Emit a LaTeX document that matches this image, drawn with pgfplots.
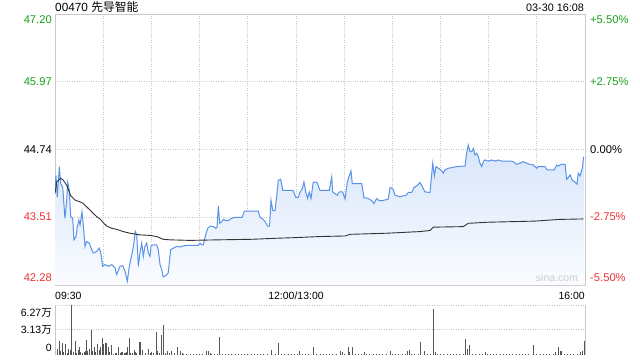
\documentclass[border=0pt]{standalone}
\usepackage{pgfplots}
\usepackage{pgfplotstable}
\pgfplotsset{compat=1.18}
\usepackage{fontspec}
\setmainfont{Liberation Sans}
\newfontfamily\cjk{Noto Sans CJK SC}
\definecolor{upg}{HTML}{1AA01A}
\definecolor{dnr}{HTML}{F03333}
\definecolor{pline}{HTML}{5A92E8}
\definecolor{gridc}{HTML}{C8C8C8}
\definecolor{bord}{HTML}{C8C8C8}
\definecolor{ftop}{HTML}{D8E5FA}
\definecolor{fbot}{HTML}{FAFCFF}
\definecolor{vol}{HTML}{555555}

\pgfplotstableread{
t p
0 44.00
0.6 44.27
1.4 43.88
2.7 44.43
3.5 44.12
4.8 44.06
6.2 43.49
7.3 43.82
7.9 44.14
8.9 44.00
9.8 43.52
11.0 43.49
11.8 43.10
13.1 43.16
13.9 43.34
14.9 43.46
15.6 43.37
16.8 43.61
17.6 43.37
18.7 42.98
19.7 43.07
21.4 43.04
22.9 42.92
23.8 42.86
26.0 42.89
27.6 42.95
28.5 42.86
29.7 42.62
31.1 42.65
33.2 42.62
35.3 42.65
37.4 42.59
38.4 42.47
40.5 42.62
42.2 42.63
43.6 42.53
45.0 42.35
46.3 42.62
47.8 42.83
48.8 42.98
50.0 43.25
50.9 43.19
51.9 42.62
52.9 42.86
54.0 43.04
55.0 42.80
56.0 42.98
57.1 43.04
58.1 42.86
59.2 42.80
59.8 42.99
61.2 43.01
63.3 43.01
64.3 42.92
65.4 42.65
66.4 42.56
67.4 42.43
69.1 42.45
70.5 42.50
72.0 42.92
73.7 42.95
75.8 42.98
77.8 42.97
79.9 42.99
82.0 43.00
89.2 43.00
90.3 43.04
91.3 43.01
92.3 43.01
93.8 43.19
95.1 43.31
96.5 43.35
98.6 43.34
100.1 43.31
100.9 43.33
101.7 43.71
102.6 43.40
103.8 43.43
104.8 43.47
106.3 43.45
107.9 43.45
110.0 43.49
112.1 43.51
116.6 43.51
117.9 43.62
126.6 43.62
127.6 43.51
129.7 43.47
130.8 43.43
132.4 43.35
133.6 43.35
134.5 43.82
135.6 43.63
137.0 43.63
138.0 43.88
139.0 44.18
140.5 44.20
141.8 44.00
147.4 44.00
148.4 43.99
149.9 43.87
151.5 43.87
152.6 43.97
154.0 44.03
155.0 44.15
156.1 43.97
157.3 43.85
158.3 43.97
159.4 43.85
160.8 44.15
163.0 44.15
165.0 44.00
170.8 44.00
172.3 44.24
172.9 43.97
174.3 43.94
175.8 43.91
177.0 43.97
179.1 43.97
180.6 43.84
182.0 44.15
183.2 44.26
184.3 44.35
185.1 44.12
191.0 44.12
192.4 43.86
194.1 43.86
195.7 43.84
197.2 43.81
198.6 43.76
200.3 43.85
201.9 43.81
203.4 43.81
205.0 43.82
207.5 43.84
208.6 44.05
210.3 44.03
211.7 43.91
213.1 43.90
214.8 43.88
216.9 43.90
218.6 43.91
220.0 43.96
222.1 43.96
223.5 44.05
225.2 44.08
227.3 44.14
228.3 44.09
230.4 43.97
233.5 43.96
235.2 44.49
236.2 44.26
237.2 44.43
238.7 44.40
240.2 44.37
241.8 44.31
242.8 44.37
244.9 44.40
247.0 44.41
250.1 44.43
255.3 44.44
256.3 44.67
257.3 44.82
258.4 44.70
259.5 44.70
260.5 44.76
261.5 44.64
262.6 44.67
263.6 44.61
264.6 44.49
265.7 44.43
266.7 44.52
267.7 44.55
269.8 44.53
271.9 44.55
274.0 44.53
276.0 44.55
278.1 44.53
283.3 44.53
285.4 44.52
287.5 44.47
289.5 44.49
291.6 44.52
293.7 44.49
295.8 44.47
297.8 44.46
299.9 44.40
300.9 44.43
305.1 44.43
306.5 44.37
310.9 44.37
312.4 44.46
313.4 44.44
315.1 44.47
317.6 44.47
318.6 44.20
319.6 44.23
320.7 44.28
322.1 44.18
323.8 44.15
325.0 44.11
325.8 44.31
326.9 44.26
328.3 44.40
329.2 44.61
}\price

\pgfplotstableread{
t p
0 43.94
1.1 44.15
3.5 44.22
5.2 44.18
7.3 44.09
9.8 43.90
12.5 43.82
15.6 43.79
17.6 43.76
19.7 43.70
21.8 43.64
23.8 43.58
26.0 43.52
28.0 43.48
30.1 43.41
32.2 43.35
35.3 43.31
38.4 43.29
42.5 43.25
46.7 43.22
52.9 43.19
59.2 43.18
63.3 43.16
67.4 43.11
71.6 43.10
84.1 43.09
101.7 43.10
122.5 43.11
139.0 43.13
149.4 43.14
165.0 43.16
180.6 43.17
183.7 43.20
206.5 43.22
227.3 43.25
233.5 43.27
235.6 43.33
254.2 43.34
257.3 43.40
269.8 43.42
298.9 43.44
313.4 43.47
329.0 43.48
}\avgp

\pgfplotstableread{
t v
0.2 0.3
1.4 0.73
2.7 1.7
3.5 0.43
4.5 1.45
5.2 0.3
6.4 1.28
7.7 0.15
8.5 0.73
9.3 0.6
10.4 6.27
11.4 0.3
12.6 1.7
13.5 0.15
14.5 0.6
15.1 1.0
16.0 0.3
17.0 0.15
18.1 0.3
18.9 0.43
19.7 1.8
20.4 0.43
21.4 0.73
22.6 3.07
23.5 0.5
24.5 1.0
25.3 0.3
26.3 1.28
27.6 0.6
28.5 0.94
29.5 2.13
30.1 1.28
31.1 1.45
32.2 1.45
33.2 1.0
33.8 0.3
35.3 1.15
36.3 0.1
37.5 0.15
38.4 0.15
39.4 1.0
40.5 0.15
41.3 0.3
42.2 0.3
43.0 0.15
43.8 0.15
44.6 0.3
45.3 1.0
46.3 2.13
47.1 0.15
48.4 0.15
49.2 0.6
50.0 0.3
50.9 0.15
52.5 1.58
53.4 1.58
54.6 0.6
56.0 0.15
58.1 0.73
59.2 0.15
60.2 0.3
61.2 0.15
62.9 2.86
63.9 0.5
64.9 0.15
66.2 2.43
67.4 3.71
68.5 0.15
69.9 0.43
71.2 0.15
72.7 0.5
74.1 0.15
76.2 1.0
77.8 0.5
79.5 0.15
80 0.08
82 0.1
84 0.06
86 0.08
88 0.1
90 0.06
92 0.08
94.0 0.43
95.3 0.5
96.5 0.15
97.5 0.1
99 0.08
101 0.06
102.3 2.22
104 0.08
106 0.1
108 0.06
110 0.08
112 0.1
114 0.06
116 0.08
118 0.1
120 0.06
122 0.08
124 0.1
126 0.06
128 0.08
130 0.1
132 0.06
134.9 0.6
137 0.1
139.0 1.45
141 0.08
143 0.06
145 0.1
147 0.08
149 0.06
151 0.08
152.1 0.43
154 0.1
156 0.06
158 0.08
160.8 1.0
163 0.1
165 0.06
167 0.08
169 0.1
171 0.06
173 0.08
175 0.1
177.6 0.5
178.7 0.3
180 0.08
182.6 1.0
183.4 0.3
185.1 1.0
187 0.1
189 0.06
191 0.08
192.6 0.3
194 0.1
196 0.06
198 0.08
200 0.1
202 0.06
204 0.08
206 0.1
208.6 0.43
210 0.08
212 0.06
214 0.1
216 0.08
218 0.06
219.6 0.43
220.4 0.6
222 0.08
224 0.1
226 0.06
227.3 1.58
229.9 0.5
232 0.08
234 0.1
235.6 5.72
236.6 0.3
238 0.08
240 0.1
242 0.06
244 0.08
246 0.1
248 0.06
250 0.08
252 0.1
254 0.06
255.3 2.0
256.7 0.73
258.0 1.15
260 0.08
262 0.1
264 0.06
266 0.08
267.7 0.3
269 0.1
271 0.06
273 0.08
275 0.1
277 0.06
279 0.08
281 0.1
283 0.06
285 0.08
287 0.1
289 0.06
291 0.08
293 0.1
295 0.06
297.8 1.15
300 0.08
302 0.1
304 0.06
306 0.08
308 0.1
310 0.06
311.3 0.3
313.4 1.0
314.4 0.4
315.5 0.5
317 0.08
319 0.1
321 0.06
323 0.08
325 0.1
326.9 0.3
328.1 0.43
329.6 1.7
}\volume

\begin{document}
\begin{tikzpicture}[font=\fontsize{10.5}{12}\selectfont]
\useasboundingbox (0pt,0pt) rectangle (640pt,360pt);
\begin{axis}[at={(55pt,75pt)}, anchor=south west, width=530pt, height=271pt, scale only axis,
  xmin=0, xmax=330, ymin=42.28, ymax=47.20,
  xtick={0,30,...,330}, ytick={42.28,43.51,44.74,45.97,47.20},
  xticklabels={}, yticklabels={}, major tick length=0pt,
  grid=major, grid style={gridc, dotted, line width=0.8pt},
  axis line style={bord, line width=0.8pt}]
\addplot[top color=ftop, bottom color=fbot, draw=none, forget plot] table[x=t,y=p] {\price} -- (axis cs:329.2,42.28) -- (axis cs:0,42.28) -- cycle;
\addplot[pline, line width=1pt] table[x=t,y=p] {\price};
\addplot[black!80, line width=0.9pt] table[x=t,y=p] {\avgp};
\end{axis}
\begin{axis}[at={(55pt,5.5pt)}, anchor=south west, width=530pt, height=49.5pt, scale only axis,
  xmin=0, xmax=330, ymin=0, ymax=6.27,
  xtick=\empty, ytick={3.13,6.27}, yticklabels={}, major tick length=0pt,
  ymajorgrids, grid style={gridc, dotted, line width=0.8pt},
  axis line style={draw=none}]
\addplot[ycomb, vol, line width=0.7pt, mark=none] table[x=t,y=v] {\volume};
\end{axis}
% panel borders of the volume area
\draw[bord, line width=0.8pt] (55pt,5.5pt) -- (55pt,55pt);
\draw[bord, line width=0.8pt] (585pt,5.5pt) -- (585pt,55pt);
% titles
\node[anchor=west, inner sep=0pt, font=\fontsize{11.8}{13}\selectfont] at (55pt,352.5pt) {00470 {\cjk 先导智能}};
\node[anchor=east, inner sep=0pt, font=\fontsize{10.8}{12}\selectfont] at (584pt,352.5pt) {03-30 16:08};
% left price labels
\begin{scope}[every node/.style={font=\fontsize{11.2}{12}\selectfont, inner sep=0pt}]
\node[anchor=east, upg] at (52pt,340pt) {47.20};
\node[anchor=east, upg] at (52pt,278.5pt) {45.97};
\node[anchor=east, black] at (52pt,210.7pt) {44.74};
\node[anchor=east, dnr] at (52pt,143pt) {43.51};
\node[anchor=east, dnr] at (52pt,82.3pt) {42.28};
% right percent labels
\node[anchor=west, upg] at (590pt,340pt) {+5.50\%};
\node[anchor=west, upg] at (590pt,278.5pt) {+2.75\%};
\node[anchor=west, black] at (590pt,210.7pt) {0.00\%};
\node[anchor=west, dnr] at (590pt,143pt) {-2.75\%};
\node[anchor=west, dnr] at (590pt,82.3pt) {-5.50\%};
\end{scope}
% time labels
\node[anchor=west, inner sep=0pt] at (55pt,64pt) {09:30};
\node[inner sep=0pt] at (296pt,64pt) {12:00/13:00};
\node[anchor=east, inner sep=0pt] at (585pt,64pt) {16:00};
% volume labels
\node[anchor=east, inner sep=0pt] at (52pt,47.3pt) {6.27{\cjk 万}};
\node[anchor=east, inner sep=0pt] at (52pt,30pt) {3.13{\cjk 万}};
\node[anchor=east, inner sep=0pt] at (52pt,12pt) {0};
% watermark
\node[inner sep=0pt, black!20] at (557pt,82pt) {sina.com};
\end{tikzpicture}
\end{document}
